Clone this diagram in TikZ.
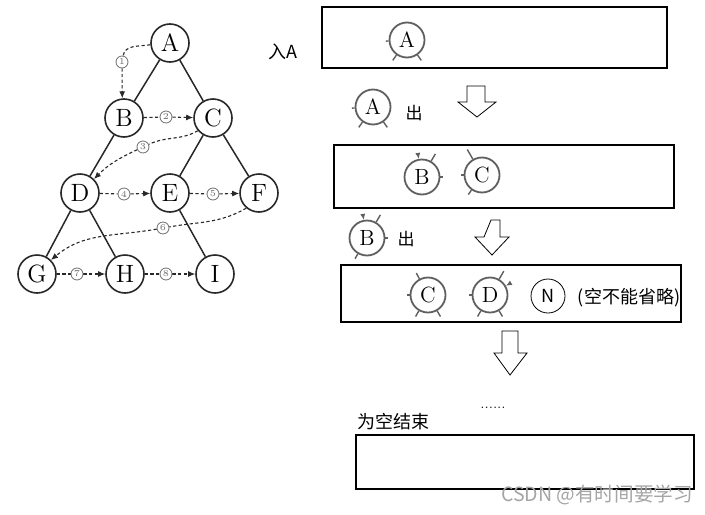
\documentclass[tikz,border=0pt]{standalone}
\usepackage{fontspec}
\newfontfamily\cjk{Noto Sans CJK SC}
\usepackage{tikz}
\usetikzlibrary{arrows,arrows.meta}
\usetikzlibrary{calc,positioning,backgrounds}
\pgfdeclarelayer{edgelayer}
\pgfdeclarelayer{nodelayer}
\pgfsetlayers{background,edgelayer,nodelayer,main}
\definecolor{treegray}{RGB}{40,40,40}
\definecolor{copygray}{RGB}{95,95,95}
\definecolor{markgray}{RGB}{110,110,110}
\definecolor{wmgray}{RGB}{165,165,165}
\tikzstyle{none}=[inner sep=0mm]
\tikzstyle{vertex}=[shape=circle,draw=treegray,line width=0.8pt,fill=white,minimum size=19pt,inner sep=0pt,font=\fontsize{12.5}{14}\selectfont]
\tikzstyle{qvertex}=[vertex,draw=copygray,line width=0.9pt,minimum size=17.5pt,font=\fontsize{11}{12}\selectfont]
\tikzstyle{nvertex}=[shape=circle,draw=black,line width=0.4pt,minimum size=17pt,inner sep=0pt,font=\cjk\fontsize{9}{10}\selectfont]
\tikzstyle{stepno}=[shape=circle,draw=markgray,fill=white,line width=0.4pt,minimum size=6pt,inner sep=0pt,text=markgray,font=\fontsize{4.5}{4.5}\selectfont]
\tikzstyle{treeedge}=[draw=treegray,line width=0.75pt]
\tikzstyle{visit}=[draw=treegray,dash pattern=on 1.6pt off 1.2pt,line width=0.55pt,-{Latex[length=3.5pt,width=3pt]}]
\tikzstyle{stub}=[draw=copygray,line width=0.7pt]
\tikzstyle{stubtip}=[stub,-{Latex[length=3pt,width=2.6pt]}]
\tikzstyle{queue}=[draw=black,line width=0.7pt]
\tikzstyle{bigarrow}=[draw=black,line width=0.4pt,fill=white]
\tikzstyle{cjktext}=[inner sep=0pt,font=\cjk\fontsize{8.5}{9}\selectfont]

\begin{document}
\begin{tikzpicture}[x=0.5pt,y=-0.5pt]
	\useasboundingbox (0,0) rectangle (705,514);
	% tree
	\begin{pgfonlayer}{nodelayer}
		\node [style=vertex] (A) at (170, 43) {A};
		\node [style=vertex] (B) at (124, 118) {B};
		\node [style=vertex] (C) at (213, 118) {C};
		\node [style=vertex] (D) at (80, 193) {D};
		\node [style=vertex] (E) at (170, 193) {E};
		\node [style=vertex] (F) at (259, 193) {F};
		\node [style=vertex] (G) at (37, 274) {G};
		\node [style=vertex] (H) at (125, 274) {H};
		\node [style=vertex] (I) at (215, 274) {I};
		\node [style=stepno] (n1) at (122, 62) {1};
		\node [style=stepno] (n2) at (166, 117) {2};
		\node [style=stepno] (n3) at (143, 147) {3};
		\node [style=stepno] (n4) at (124, 194) {4};
		\node [style=stepno] (n5) at (213, 194) {5};
		\node [style=stepno] (n6) at (163, 228) {6};
		\node [style=stepno] (n7) at (77, 274) {7};
		\node [style=stepno] (n8) at (166, 274) {8};
	\end{pgfonlayer}
	\begin{pgfonlayer}{edgelayer}
		\draw [style=treeedge] (A) to (B);
		\draw [style=treeedge] (A) to (C);
		\draw [style=treeedge] (B) to (D);
		\draw [style=treeedge] (C) to (E);
		\draw [style=treeedge] (C) to (F);
		\draw [style=treeedge] (D) to (G);
		\draw [style=treeedge] (D) to (H);
		\draw [style=treeedge] (E) to (I);
		\draw [style=visit] (A.185) to [out=190, in=80] (n1) to (B.95);
		\draw [style=visit] (B) to (n2) to (C);
		\draw [style=visit] (C.220) to [out=210, in=25] (n3) to [out=205, in=45] (D.45);
		\draw [style=visit] (D) to (n4) to (E);
		\draw [style=visit] (E) to (n5) to (F);
		\draw [style=visit] (F.230) to [out=210, in=10] (n6) to [out=190, in=40] (G.45);
		\draw [style=visit] (G) to (n7) to (H);
		\draw [style=visit] (H) to (n8) to (I);
	\end{pgfonlayer}
	% queue
	\begin{pgfonlayer}{nodelayer}
		\node [style=cjktext, font=\cjk\fontsize{9}{10}\selectfont] (inA) at (283, 52) {入A};
		\node [style=qvertex] (qA) at (407, 40) {A};
		\node [style=qvertex] (oA) at (373, 107) {A};
		\node [style=cjktext] (outA) at (414, 113) {出};
		\node [style=qvertex] (qB) at (422, 177) {B};
		\node [style=qvertex] (qC) at (482, 175) {C};
		\node [style=qvertex] (oB) at (367, 238) {B};
		\node [style=cjktext] (outB) at (406, 239) {出};
		\node [style=qvertex] (qC2) at (428, 295) {C};
		\node [style=qvertex] (qD) at (490, 295) {D};
		\node [style=nvertex] (N) at (548, 296) {N};
		\node [style=cjktext, font=\cjk\fontsize{9}{10}\selectfont] (keep) at (629, 298) {(空不能省略)};
		\node [style=none, font=\fontsize{6}{6}\selectfont] (more) at (493, 408) {......};
		\node [style=cjktext, font=\cjk\fontsize{9}{10}\selectfont] (empty) at (393, 422) {为空结束};
		\node [style=cjktext, font=\cjk\fontsize{9.8}{10}\selectfont, text=wmgray] (mark) at (597, 495) {CSDN @有时间要学习};
	\end{pgfonlayer}
	\begin{pgfonlayer}{edgelayer}
		\draw [style=queue] (322, 7) rectangle (667, 68);
		\draw [style=queue] (334, 145) rectangle (674, 208);
		\draw [style=queue] (341, 265) rectangle (681, 322);
		\draw [style=queue] (356, 435) rectangle (694, 489);
		\draw [style=bigarrow] (467, 86) -- (485, 86) -- (485, 102) -- (496, 102) -- (477, 117) -- (458, 102) -- (467, 102) -- cycle;
		\draw [style=bigarrow] (491, 220) -- (500, 220) -- (500, 237) -- (509, 237) -- (492, 255) -- (475, 237) -- (484, 237) -- cycle;
		\draw [style=bigarrow] (502, 331) -- (518, 331) -- (518, 353) -- (527, 353) -- (510, 375) -- (494, 353) -- (502, 353) -- cycle;
		% cut edges round the copied nodes
		\draw [style=stub] (qA.183) to ($(qA)!1.15!(qA.183)$);
		\draw [style=stub] (qA.235) to ($(qA)!1.35!(qA.235)$);
		\draw [style=stub] (qA.305) to ($(qA)!1.35!(qA.305)$);
		\draw [style=stub] (oA.183) to ($(oA)!1.15!(oA.183)$);
		\draw [style=stub] (oA.235) to ($(oA)!1.35!(oA.235)$);
		\draw [style=stub] (oA.305) to ($(oA)!1.35!(oA.305)$);
		\draw [style=stubtip] ($(qB)!1.3!(qB.100)$) to (qB.100);
		\draw [style=stub] (qB.60) to ($(qB)!1.45!(qB.60)$);
		\draw [style=stub] (qB.0) to ($(qB)!1.15!(qB.0)$);
		\draw [style=stub] (qC.120) to ($(qC)!1.6!(qC.120)$);
		\draw [style=stub] (qC.180) to ($(qC)!1.15!(qC.180)$);
		\draw [style=stub] (qC.235) to ($(qC)!1.3!(qC.235)$);
		\draw [style=stubtip] ($(oB)!1.3!(oB.100)$) to (oB.100);
		\draw [style=stub] (oB.60) to ($(oB)!1.45!(oB.60)$);
		\draw [style=stub] (oB.0) to ($(oB)!1.15!(oB.0)$);
		\draw [style=stub] (oB.240) to ($(oB)!1.3!(oB.240)$);
		\draw [style=stub] (qC2.118) to ($(qC2)!1.35!(qC2.118)$);
		\draw [style=stub] (qC2.180) to ($(qC2)!1.15!(qC2.180)$);
		\draw [style=stub] (qC2.240) to ($(qC2)!1.35!(qC2.240)$);
		\draw [style=stub] (qC2.300) to ($(qC2)!1.35!(qC2.300)$);
		\draw [style=stub] (qD.60) to ($(qD)!1.5!(qD.60)$);
		\draw [style=stubtip] ($(qD)!1.3!(qD.30)$) to (qD.30);
		\draw [style=stub] (qD.180) to ($(qD)!1.15!(qD.180)$);
		\draw [style=stub] (qD.240) to ($(qD)!1.35!(qD.240)$);
		\draw [style=stub] (qD.300) to ($(qD)!1.35!(qD.300)$);
	\end{pgfonlayer}
\end{tikzpicture}
\end{document}
